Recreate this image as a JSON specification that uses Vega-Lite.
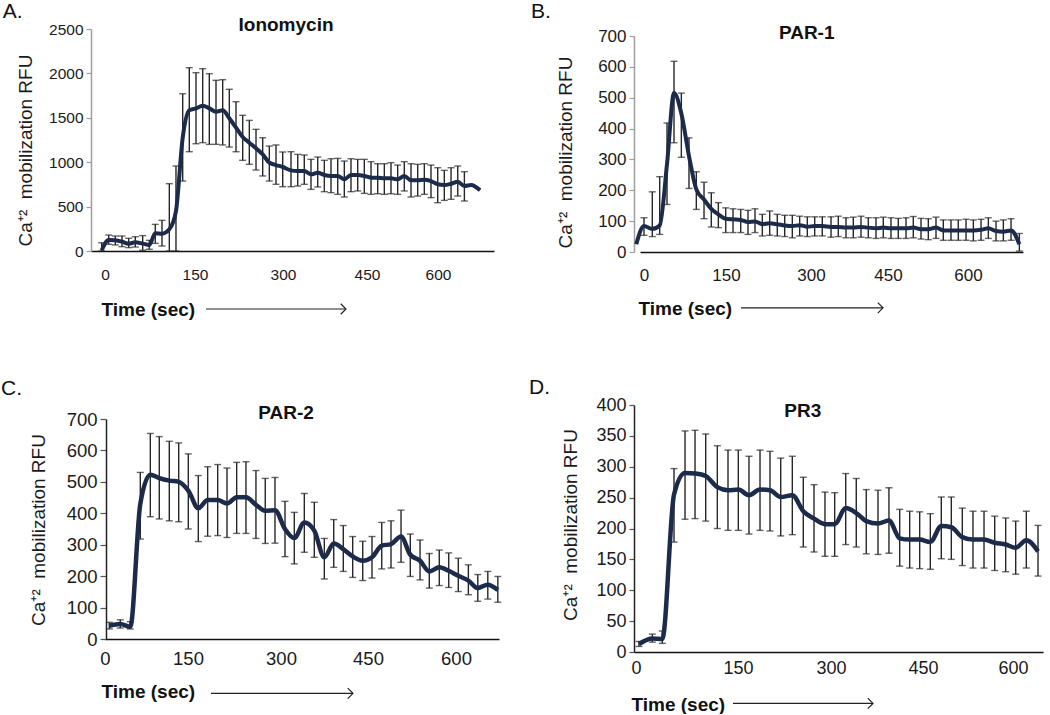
{
  "$schema": "https://vega.github.io/schema/vega-lite/v6.json",
  "padding": 0,
  "background": "white",
  "config": {"view": {"stroke": null}, "font": "Liberation Sans"},
  "datasets": {
    "A": [
      {"t":-5.5,"mean":8,"lo":0,"hi":93},
      {"t":6.2,"mean":124,"lo":75,"hi":180},
      {"t":17.2,"mean":120,"lo":68,"hi":169},
      {"t":28.3,"mean":105,"lo":49,"hi":169},
      {"t":39.5,"mean":83,"lo":38,"hi":143},
      {"t":50.5,"mean":98,"lo":45,"hi":161},
      {"t":62.8,"mean":83,"lo":8,"hi":173},
      {"t":73.8,"mean":68,"lo":19,"hi":120},
      {"t":83.8,"mean":199,"lo":86,"hi":300},
      {"t":95,"mean":195,"lo":56,"hi":345},
      {"t":107.2,"mean":244,"lo":0,"hi":758},
      {"t":118.3,"mean":450,"lo":0,"hi":957},
      {"t":129.5,"mean":1276,"lo":788,"hi":1771},
      {"t":140.5,"mean":1584,"lo":1118,"hi":2064},
      {"t":151.7,"mean":1606,"lo":1208,"hi":2008},
      {"t":163.1,"mean":1637,"lo":1220,"hi":2053},
      {"t":174.4,"mean":1606,"lo":1201,"hi":1997},
      {"t":185.8,"mean":1569,"lo":1201,"hi":1922},
      {"t":197.2,"mean":1584,"lo":1194,"hi":1929},
      {"t":208.5,"mean":1494,"lo":1171,"hi":1821},
      {"t":219.9,"mean":1389,"lo":1118,"hi":1681},
      {"t":231.3,"mean":1284,"lo":1021,"hi":1528},
      {"t":242.6,"mean":1220,"lo":976,"hi":1471},
      {"t":254,"mean":1156,"lo":912,"hi":1370},
      {"t":265.4,"mean":1088,"lo":845,"hi":1276},
      {"t":276.7,"mean":995,"lo":788,"hi":1182},
      {"t":288.1,"mean":968,"lo":751,"hi":1194},
      {"t":299.5,"mean":946,"lo":724,"hi":1115},
      {"t":314.3,"mean":908,"lo":724,"hi":1118},
      {"t":326.3,"mean":901,"lo":732,"hi":1088},
      {"t":338,"mean":900,"lo":751,"hi":1081},
      {"t":350,"mean":863,"lo":694,"hi":1032},
      {"t":362,"mean":882,"lo":721,"hi":1058},
      {"t":373.8,"mean":856,"lo":668,"hi":1021},
      {"t":385.7,"mean":845,"lo":657,"hi":1039},
      {"t":397.7,"mean":845,"lo":638,"hi":1043},
      {"t":409.5,"mean":807,"lo":608,"hi":1013},
      {"t":421.4,"mean":856,"lo":668,"hi":1039},
      {"t":433.4,"mean":856,"lo":676,"hi":1032},
      {"t":445.2,"mean":845,"lo":649,"hi":1032},
      {"t":458.5,"mean":826,"lo":638,"hi":1006},
      {"t":472.6,"mean":826,"lo":645,"hi":983},
      {"t":486.6,"mean":818,"lo":638,"hi":983},
      {"t":500.7,"mean":818,"lo":645,"hi":995},
      {"t":514.8,"mean":807,"lo":638,"hi":968},
      {"t":528.8,"mean":845,"lo":676,"hi":1006},
      {"t":543,"mean":796,"lo":608,"hi":983},
      {"t":557.1,"mean":796,"lo":619,"hi":976},
      {"t":571.1,"mean":803,"lo":638,"hi":983},
      {"t":585.2,"mean":788,"lo":601,"hi":968},
      {"t":599.4,"mean":751,"lo":544,"hi":938},
      {"t":613.3,"mean":743,"lo":570,"hi":908},
      {"t":627.5,"mean":758,"lo":582,"hi":938},
      {"t":641.6,"mean":781,"lo":619,"hi":957},
      {"t":655.6,"mean":732,"lo":563,"hi":893},
      {"t":669.7,"mean":743,"lo":null,"hi":null},
      {"t":688.7,"mean":683,"lo":null,"hi":null}
    ],
    "B": [
      {"t":-14.1,"mean":25,"lo":null,"hi":null},
      {"t":0,"mean":84,"lo":54,"hi":111},
      {"t":15.2,"mean":75,"lo":50,"hi":195},
      {"t":28.7,"mean":86,"lo":57,"hi":244},
      {"t":42.1,"mean":285,"lo":154,"hi":418},
      {"t":54.9,"mean":515,"lo":354,"hi":618},
      {"t":68.3,"mean":449,"lo":307,"hi":515},
      {"t":82.3,"mean":311,"lo":206,"hi":370},
      {"t":95.7,"mean":203,"lo":138,"hi":260},
      {"t":109.8,"mean":170,"lo":108,"hi":226},
      {"t":123.1,"mean":140,"lo":81,"hi":192},
      {"t":136,"mean":122,"lo":79,"hi":160},
      {"t":149.5,"mean":108,"lo":63,"hi":143},
      {"t":162.4,"mean":106,"lo":63,"hi":140},
      {"t":176,"mean":104,"lo":63,"hi":138},
      {"t":188.8,"mean":97,"lo":57,"hi":135},
      {"t":201.2,"mean":99,"lo":63,"hi":140},
      {"t":214.1,"mean":90,"lo":52,"hi":122},
      {"t":227.1,"mean":93,"lo":54,"hi":133},
      {"t":240.5,"mean":90,"lo":52,"hi":122},
      {"t":253.6,"mean":86,"lo":50,"hi":119},
      {"t":267,"mean":84,"lo":46,"hi":119},
      {"t":280,"mean":87,"lo":52,"hi":116},
      {"t":293.5,"mean":82,"lo":50,"hi":114},
      {"t":307.2,"mean":84,"lo":52,"hi":114},
      {"t":322,"mean":84,"lo":52,"hi":114},
      {"t":339,"mean":81,"lo":48,"hi":114},
      {"t":353.2,"mean":81,"lo":50,"hi":116},
      {"t":368.2,"mean":79,"lo":46,"hi":111},
      {"t":382.4,"mean":79,"lo":46,"hi":113},
      {"t":397.4,"mean":81,"lo":48,"hi":116},
      {"t":411.6,"mean":79,"lo":46,"hi":111},
      {"t":426.6,"mean":77,"lo":44,"hi":111},
      {"t":440.8,"mean":79,"lo":46,"hi":113},
      {"t":455.6,"mean":77,"lo":44,"hi":111},
      {"t":469.3,"mean":77,"lo":44,"hi":109},
      {"t":483.8,"mean":77,"lo":44,"hi":111},
      {"t":497.4,"mean":79,"lo":46,"hi":115},
      {"t":511.9,"mean":74,"lo":42,"hi":109},
      {"t":525.6,"mean":74,"lo":40,"hi":108},
      {"t":540,"mean":79,"lo":44,"hi":113},
      {"t":553.7,"mean":70,"lo":38,"hi":104},
      {"t":568.1,"mean":70,"lo":38,"hi":104},
      {"t":581.8,"mean":70,"lo":38,"hi":104},
      {"t":596.3,"mean":70,"lo":38,"hi":106},
      {"t":610,"mean":70,"lo":36,"hi":104},
      {"t":624.4,"mean":72,"lo":38,"hi":106},
      {"t":638.1,"mean":77,"lo":44,"hi":111},
      {"t":652.5,"mean":68,"lo":36,"hi":100},
      {"t":666.2,"mean":66,"lo":36,"hi":104},
      {"t":680.6,"mean":70,"lo":38,"hi":108},
      {"t":696.2,"mean":25,"lo":3,"hi":60}
    ],
    "C": [
      {"t":7.8,"mean":42,"lo":32,"hi":53},
      {"t":27.6,"mean":48,"lo":35,"hi":61},
      {"t":45.7,"mean":39,"lo":32,"hi":55},
      {"t":63.8,"mean":430,"lo":318,"hi":530},
      {"t":81.9,"mean":523,"lo":389,"hi":654},
      {"t":98.1,"mean":512,"lo":382,"hi":644},
      {"t":116.2,"mean":504,"lo":376,"hi":629},
      {"t":133.2,"mean":500,"lo":373,"hi":624},
      {"t":150.5,"mean":472,"lo":350,"hi":589},
      {"t":166.6,"mean":416,"lo":310,"hi":520},
      {"t":181.7,"mean":442,"lo":327,"hi":548},
      {"t":197.9,"mean":442,"lo":329,"hi":555},
      {"t":212.9,"mean":431,"lo":323,"hi":544},
      {"t":228.5,"mean":451,"lo":336,"hi":562},
      {"t":243.5,"mean":451,"lo":336,"hi":564},
      {"t":259.6,"mean":427,"lo":320,"hi":536},
      {"t":274.6,"mean":408,"lo":304,"hi":511},
      {"t":290.3,"mean":410,"lo":305,"hi":514},
      {"t":306.9,"mean":350,"lo":262,"hi":438},
      {"t":322.9,"mean":321,"lo":239,"hi":403},
      {"t":340.2,"mean":371,"lo":276,"hi":463},
      {"t":357.4,"mean":345,"lo":260,"hi":435},
      {"t":374.7,"mean":260,"lo":191,"hi":320},
      {"t":390.9,"mean":304,"lo":228,"hi":380},
      {"t":407.4,"mean":286,"lo":215,"hi":361},
      {"t":423.6,"mean":263,"lo":196,"hi":326},
      {"t":440.9,"mean":249,"lo":186,"hi":311},
      {"t":456.8,"mean":260,"lo":194,"hi":326},
      {"t":473.4,"mean":297,"lo":223,"hi":371},
      {"t":489.2,"mean":302,"lo":226,"hi":376},
      {"t":506.3,"mean":326,"lo":244,"hi":410},
      {"t":522.1,"mean":268,"lo":199,"hi":334},
      {"t":538.7,"mean":249,"lo":188,"hi":315},
      {"t":554.5,"mean":215,"lo":162,"hi":272},
      {"t":571.5,"mean":228,"lo":170,"hi":283},
      {"t":587.6,"mean":217,"lo":164,"hi":274},
      {"t":603.9,"mean":201,"lo":151,"hi":257},
      {"t":621,"mean":186,"lo":141,"hi":236},
      {"t":637,"mean":162,"lo":120,"hi":205},
      {"t":654,"mean":173,"lo":127,"hi":215},
      {"t":671,"mean":156,"lo":117,"hi":199}
    ],
    "D": [
      {"t":4.4,"mean":13,"lo":9,"hi":17},
      {"t":24,"mean":22,"lo":16,"hi":29},
      {"t":38.7,"mean":21,"lo":14,"hi":34},
      {"t":55.9,"mean":255,"lo":178,"hi":297},
      {"t":72.1,"mean":290,"lo":215,"hi":358},
      {"t":86.8,"mean":289,"lo":216,"hi":359},
      {"t":102.5,"mean":285,"lo":212,"hi":353},
      {"t":119.6,"mean":267,"lo":200,"hi":334},
      {"t":135.3,"mean":262,"lo":197,"hi":327},
      {"t":150.5,"mean":263,"lo":197,"hi":327},
      {"t":167.7,"mean":254,"lo":191,"hi":317},
      {"t":185.5,"mean":263,"lo":197,"hi":327},
      {"t":201.6,"mean":262,"lo":196,"hi":325},
      {"t":218.9,"mean":251,"lo":188,"hi":314},
      {"t":237.6,"mean":254,"lo":190,"hi":317},
      {"t":255.3,"mean":228,"lo":170,"hi":283},
      {"t":272.6,"mean":216,"lo":162,"hi":271},
      {"t":290.3,"mean":207,"lo":155,"hi":259},
      {"t":306,"mean":207,"lo":155,"hi":258},
      {"t":324,"mean":233,"lo":174,"hi":289},
      {"t":341.2,"mean":225,"lo":170,"hi":281},
      {"t":357.5,"mean":212,"lo":159,"hi":263},
      {"t":376.6,"mean":208,"lo":158,"hi":262},
      {"t":394.5,"mean":213,"lo":160,"hi":266},
      {"t":412,"mean":184,"lo":139,"hi":231},
      {"t":428.3,"mean":182,"lo":136,"hi":228},
      {"t":444.6,"mean":182,"lo":135,"hi":227},
      {"t":462.2,"mean":178,"lo":134,"hi":224},
      {"t":480.5,"mean":204,"lo":151,"hi":251},
      {"t":497.2,"mean":202,"lo":150,"hi":251},
      {"t":515.5,"mean":186,"lo":140,"hi":233},
      {"t":533.3,"mean":182,"lo":136,"hi":228},
      {"t":551.7,"mean":182,"lo":136,"hi":228},
      {"t":569.5,"mean":177,"lo":132,"hi":220},
      {"t":587.8,"mean":174,"lo":130,"hi":217},
      {"t":604.5,"mean":169,"lo":126,"hi":212},
      {"t":622.2,"mean":181,"lo":136,"hi":228},
      {"t":641.7,"mean":163,"lo":123,"hi":205}
    ]
  },
  "concat": [
    {
      "width": 403, "height": 222,
      "layer": [
        {"data": {"name": "A"}, "transform": [{"filter": "isValid(datum.hi)"}],
         "mark": {"type": "errorbar", "color": "#262626", "ticks": {"size": 7, "thickness": 1.4, "color": "#262626"}, "rule": {"strokeWidth": 1.4, "color": "#262626"}},
         "encoding": {
           "x": {"field": "t", "type": "quantitative", "scale": {"domain": [-23.3, 0, 150, 300, 450, 600, 718], "range": [0, 14, 104, 192, 276, 347, 403], "nice": false, "zero": false}, "axis": {"title": "Time (sec)", "values": [0,150,300,450,600], "grid": false, "ticks": false, "tickSize": 0, "domainColor": "#111111", "domainWidth": 1.5, "labelFont": "Liberation Sans", "labelFontSize": 15.5, "labelColor": "#1a1a1a", "labelPadding": 16, "labelFlush": false, "titleFont": "Liberation Sans", "titleFontSize": 19, "titleFontWeight": "bold", "titleColor": "#111111", "titleX": 10, "titleY": 58, "titleAlign": "left", "titleBaseline": "middle", "titleAnchor": "start"}},
           "y": {"field": "lo", "type": "quantitative", "scale": {"domain": [0, 2500], "nice": false, "zero": false}, "axis": {"title": "Ca⁺²\u00a0 mobilization RFU", "format": "d", "values": [0,500,1000,1500,2000,2500], "grid": false, "domainColor": "#9e9e9e", "domainWidth": 1.5, "tickColor": "#9e9e9e", "tickSize": 5, "tickWidth": 1.2, "labelFont": "Liberation Sans", "labelFontSize": 15.5, "labelColor": "#1a1a1a", "labelPadding": 3, "titleFont": "Liberation Sans", "titleFontSize": 19, "titleFontWeight": "normal", "titleColor": "#1a1a1a", "titleX": -66, "titleY": 121, "titleAngle": -90, "titleAlign": "center", "titleBaseline": "middle"}},
           "y2": {"field": "hi"}
         }},
        {"data": {"name": "A"},
         "mark": {"type": "line", "color": "#1c2b4a", "strokeWidth": 4, "interpolate": "monotone"},
         "encoding": {
           "x": {"field": "t", "type": "quantitative", "scale": {"domain": [-23.3, 0, 150, 300, 450, 600, 718], "range": [0, 14, 104, 192, 276, 347, 403], "nice": false, "zero": false}, "axis": {"title": "Time (sec)", "values": [0,150,300,450,600], "grid": false, "ticks": false, "tickSize": 0, "domainColor": "#111111", "domainWidth": 1.5, "labelFont": "Liberation Sans", "labelFontSize": 15.5, "labelColor": "#1a1a1a", "labelPadding": 16, "labelFlush": false, "titleFont": "Liberation Sans", "titleFontSize": 19, "titleFontWeight": "bold", "titleColor": "#111111", "titleX": 10, "titleY": 58, "titleAlign": "left", "titleBaseline": "middle", "titleAnchor": "start"}},
           "y": {"field": "mean", "type": "quantitative", "scale": {"domain": [0, 2500], "nice": false, "zero": false}, "axis": {"title": "Ca⁺²\u00a0 mobilization RFU", "format": "d", "values": [0,500,1000,1500,2000,2500], "grid": false, "domainColor": "#9e9e9e", "domainWidth": 1.5, "tickColor": "#9e9e9e", "tickSize": 5, "tickWidth": 1.2, "labelFont": "Liberation Sans", "labelFontSize": 15.5, "labelColor": "#1a1a1a", "labelPadding": 3, "titleFont": "Liberation Sans", "titleFontSize": 19, "titleFontWeight": "normal", "titleColor": "#1a1a1a", "titleX": -66, "titleY": 121, "titleAngle": -90, "titleAlign": "center", "titleBaseline": "middle"}}
         }},
        {"data": {"values": [{}]},
         "mark": {"type": "text", "text": "A.", "align": "left", "baseline": "middle", "fontSize": 21, "font": "Liberation Sans", "color": "#111111"},
         "encoding": {
           "x": {"datum": -170, "type": "quantitative", "scale": {"domain": [-23.3, 0, 150, 300, 450, 600, 718], "range": [0, 14, 104, 192, 276, 347, 403], "nice": false, "zero": false}, "axis": {"title": "Time (sec)", "values": [0,150,300,450,600], "grid": false, "ticks": false, "tickSize": 0, "domainColor": "#111111", "domainWidth": 1.5, "labelFont": "Liberation Sans", "labelFontSize": 15.5, "labelColor": "#1a1a1a", "labelPadding": 16, "labelFlush": false, "titleFont": "Liberation Sans", "titleFontSize": 19, "titleFontWeight": "bold", "titleColor": "#111111", "titleX": 10, "titleY": 58, "titleAlign": "left", "titleBaseline": "middle", "titleAnchor": "start"}},
           "y": {"datum": 2697, "type": "quantitative", "scale": {"domain": [0, 2500], "nice": false, "zero": false}, "axis": {"title": "Ca⁺²\u00a0 mobilization RFU", "format": "d", "values": [0,500,1000,1500,2000,2500], "grid": false, "domainColor": "#9e9e9e", "domainWidth": 1.5, "tickColor": "#9e9e9e", "tickSize": 5, "tickWidth": 1.2, "labelFont": "Liberation Sans", "labelFontSize": 15.5, "labelColor": "#1a1a1a", "labelPadding": 3, "titleFont": "Liberation Sans", "titleFontSize": 19, "titleFontWeight": "normal", "titleColor": "#1a1a1a", "titleX": -66, "titleY": 121, "titleAngle": -90, "titleAlign": "center", "titleBaseline": "middle"}}
         }},
        {"data": {"values": [{}]},
         "mark": {"type": "text", "text": "Ionomycin", "align": "center", "baseline": "middle", "fontSize": 19, "fontWeight": "bold", "font": "Liberation Sans", "color": "#111111"},
         "encoding": {
           "x": {"datum": 305.4, "type": "quantitative", "scale": {"domain": [-23.3, 0, 150, 300, 450, 600, 718], "range": [0, 14, 104, 192, 276, 347, 403], "nice": false, "zero": false}, "axis": {"title": "Time (sec)", "values": [0,150,300,450,600], "grid": false, "ticks": false, "tickSize": 0, "domainColor": "#111111", "domainWidth": 1.5, "labelFont": "Liberation Sans", "labelFontSize": 15.5, "labelColor": "#1a1a1a", "labelPadding": 16, "labelFlush": false, "titleFont": "Liberation Sans", "titleFontSize": 19, "titleFontWeight": "bold", "titleColor": "#111111", "titleX": 10, "titleY": 58, "titleAlign": "left", "titleBaseline": "middle", "titleAnchor": "start"}},
           "y": {"datum": 2545, "type": "quantitative", "scale": {"domain": [0, 2500], "nice": false, "zero": false}, "axis": {"title": "Ca⁺²\u00a0 mobilization RFU", "format": "d", "values": [0,500,1000,1500,2000,2500], "grid": false, "domainColor": "#9e9e9e", "domainWidth": 1.5, "tickColor": "#9e9e9e", "tickSize": 5, "tickWidth": 1.2, "labelFont": "Liberation Sans", "labelFontSize": 15.5, "labelColor": "#1a1a1a", "labelPadding": 3, "titleFont": "Liberation Sans", "titleFontSize": 19, "titleFontWeight": "normal", "titleColor": "#1a1a1a", "titleX": -66, "titleY": 121, "titleAngle": -90, "titleAlign": "center", "titleBaseline": "middle"}}
         }},
        {"data": {"values": [{}]},
         "mark": {"type": "rule", "color": "#222222", "strokeWidth": 1.2},
         "encoding": {
           "x": {"datum": 168.7, "type": "quantitative", "scale": {"domain": [-23.3, 0, 150, 300, 450, 600, 718], "range": [0, 14, 104, 192, 276, 347, 403], "nice": false, "zero": false}, "axis": {"title": "Time (sec)", "values": [0,150,300,450,600], "grid": false, "ticks": false, "tickSize": 0, "domainColor": "#111111", "domainWidth": 1.5, "labelFont": "Liberation Sans", "labelFontSize": 15.5, "labelColor": "#1a1a1a", "labelPadding": 16, "labelFlush": false, "titleFont": "Liberation Sans", "titleFontSize": 19, "titleFontWeight": "bold", "titleColor": "#111111", "titleX": 10, "titleY": 58, "titleAlign": "left", "titleBaseline": "middle", "titleAnchor": "start"}},
           "x2": {"datum": 412.5},
           "y": {"datum": -653, "type": "quantitative", "scale": {"domain": [0, 2500], "nice": false, "zero": false}, "axis": {"title": "Ca⁺²\u00a0 mobilization RFU", "format": "d", "values": [0,500,1000,1500,2000,2500], "grid": false, "domainColor": "#9e9e9e", "domainWidth": 1.5, "tickColor": "#9e9e9e", "tickSize": 5, "tickWidth": 1.2, "labelFont": "Liberation Sans", "labelFontSize": 15.5, "labelColor": "#1a1a1a", "labelPadding": 3, "titleFont": "Liberation Sans", "titleFontSize": 19, "titleFontWeight": "normal", "titleColor": "#1a1a1a", "titleX": -66, "titleY": 121, "titleAngle": -90, "titleAlign": "center", "titleBaseline": "middle"}}
         }},
        {"data": {"values": [{}]},
         "mark": {"type": "point", "shape": "M-1,-1L0,0L-1,1", "filled": false, "size": 110, "stroke": "#222222", "strokeWidth": 1.2, "opacity": 1},
         "encoding": {
           "x": {"datum": 412.5, "type": "quantitative", "scale": {"domain": [-23.3, 0, 150, 300, 450, 600, 718], "range": [0, 14, 104, 192, 276, 347, 403], "nice": false, "zero": false}, "axis": {"title": "Time (sec)", "values": [0,150,300,450,600], "grid": false, "ticks": false, "tickSize": 0, "domainColor": "#111111", "domainWidth": 1.5, "labelFont": "Liberation Sans", "labelFontSize": 15.5, "labelColor": "#1a1a1a", "labelPadding": 16, "labelFlush": false, "titleFont": "Liberation Sans", "titleFontSize": 19, "titleFontWeight": "bold", "titleColor": "#111111", "titleX": 10, "titleY": 58, "titleAlign": "left", "titleBaseline": "middle", "titleAnchor": "start"}},
           "y": {"datum": -653, "type": "quantitative", "scale": {"domain": [0, 2500], "nice": false, "zero": false}, "axis": {"title": "Ca⁺²\u00a0 mobilization RFU", "format": "d", "values": [0,500,1000,1500,2000,2500], "grid": false, "domainColor": "#9e9e9e", "domainWidth": 1.5, "tickColor": "#9e9e9e", "tickSize": 5, "tickWidth": 1.2, "labelFont": "Liberation Sans", "labelFontSize": 15.5, "labelColor": "#1a1a1a", "labelPadding": 3, "titleFont": "Liberation Sans", "titleFontSize": 19, "titleFontWeight": "normal", "titleColor": "#1a1a1a", "titleX": -66, "titleY": 121, "titleAngle": -90, "titleAlign": "center", "titleBaseline": "middle"}}
         }}
      ]
    },
    {
      "width": 389, "height": 223,
      "layer": [
        {"data": {"name": "B"}, "transform": [{"filter": "isValid(datum.hi)"}],
         "mark": {"type": "errorbar", "color": "#262626", "ticks": {"size": 7, "thickness": 1.4, "color": "#262626"}, "rule": {"strokeWidth": 1.4, "color": "#262626"}},
         "encoding": {
           "x": {"field": "t", "type": "quantitative", "scale": {"domain": [-7.3, 0, 150, 300, 450, 600, 703], "range": [6, 10, 92, 177, 254, 334, 389], "nice": false, "zero": false}, "axis": {"title": "Time (sec)", "values": [0,150,300,450,600], "grid": false, "ticks": false, "tickSize": 0, "domainColor": "#111111", "domainWidth": 1.5, "labelFont": "Liberation Sans", "labelFontSize": 17, "labelColor": "#1a1a1a", "labelPadding": 15, "labelFlush": false, "titleFont": "Liberation Sans", "titleFontSize": 19, "titleFontWeight": "bold", "titleColor": "#111111", "titleX": 4, "titleY": 56, "titleAlign": "left", "titleBaseline": "middle", "titleAnchor": "start"}},
           "y": {"field": "lo", "type": "quantitative", "scale": {"domain": [0, 700], "range": [223, 7], "nice": false, "zero": false}, "axis": {"title": "Ca⁺²\u00a0 mobilization RFU", "format": "d", "values": [0,100,200,300,400,500,600,700], "grid": false, "domainColor": "#9e9e9e", "domainWidth": 1.5, "tickColor": "#9e9e9e", "tickSize": 5, "tickWidth": 1.2, "labelFont": "Liberation Sans", "labelFontSize": 17, "labelColor": "#1a1a1a", "labelPadding": 3, "titleFont": "Liberation Sans", "titleFontSize": 19, "titleFontWeight": "normal", "titleColor": "#1a1a1a", "titleX": -69, "titleY": 123, "titleAngle": -90, "titleAlign": "center", "titleBaseline": "middle"}},
           "y2": {"field": "hi"}
         }},
        {"data": {"name": "B"},
         "mark": {"type": "line", "color": "#1c2b4a", "strokeWidth": 4, "interpolate": "monotone"},
         "encoding": {
           "x": {"field": "t", "type": "quantitative", "scale": {"domain": [-7.3, 0, 150, 300, 450, 600, 703], "range": [6, 10, 92, 177, 254, 334, 389], "nice": false, "zero": false}, "axis": {"title": "Time (sec)", "values": [0,150,300,450,600], "grid": false, "ticks": false, "tickSize": 0, "domainColor": "#111111", "domainWidth": 1.5, "labelFont": "Liberation Sans", "labelFontSize": 17, "labelColor": "#1a1a1a", "labelPadding": 15, "labelFlush": false, "titleFont": "Liberation Sans", "titleFontSize": 19, "titleFontWeight": "bold", "titleColor": "#111111", "titleX": 4, "titleY": 56, "titleAlign": "left", "titleBaseline": "middle", "titleAnchor": "start"}},
           "y": {"field": "mean", "type": "quantitative", "scale": {"domain": [0, 700], "range": [223, 7], "nice": false, "zero": false}, "axis": {"title": "Ca⁺²\u00a0 mobilization RFU", "format": "d", "values": [0,100,200,300,400,500,600,700], "grid": false, "domainColor": "#9e9e9e", "domainWidth": 1.5, "tickColor": "#9e9e9e", "tickSize": 5, "tickWidth": 1.2, "labelFont": "Liberation Sans", "labelFontSize": 17, "labelColor": "#1a1a1a", "labelPadding": 3, "titleFont": "Liberation Sans", "titleFontSize": 19, "titleFontWeight": "normal", "titleColor": "#1a1a1a", "titleX": -69, "titleY": 123, "titleAngle": -90, "titleAlign": "center", "titleBaseline": "middle"}}
         }},
        {"data": {"values": [{}]},
         "mark": {"type": "text", "text": "B.", "align": "left", "baseline": "middle", "fontSize": 21, "font": "Liberation Sans", "color": "#111111"},
         "encoding": {
           "x": {"datum": -206.2, "type": "quantitative", "scale": {"domain": [-7.3, 0, 150, 300, 450, 600, 703], "range": [6, 10, 92, 177, 254, 334, 389], "nice": false, "zero": false}, "axis": {"title": "Time (sec)", "values": [0,150,300,450,600], "grid": false, "ticks": false, "tickSize": 0, "domainColor": "#111111", "domainWidth": 1.5, "labelFont": "Liberation Sans", "labelFontSize": 17, "labelColor": "#1a1a1a", "labelPadding": 15, "labelFlush": false, "titleFont": "Liberation Sans", "titleFontSize": 19, "titleFontWeight": "bold", "titleColor": "#111111", "titleX": 4, "titleY": 56, "titleAlign": "left", "titleBaseline": "middle", "titleAnchor": "start"}},
           "y": {"datum": 778, "type": "quantitative", "scale": {"domain": [0, 700], "range": [223, 7], "nice": false, "zero": false}, "axis": {"title": "Ca⁺²\u00a0 mobilization RFU", "format": "d", "values": [0,100,200,300,400,500,600,700], "grid": false, "domainColor": "#9e9e9e", "domainWidth": 1.5, "tickColor": "#9e9e9e", "tickSize": 5, "tickWidth": 1.2, "labelFont": "Liberation Sans", "labelFontSize": 17, "labelColor": "#1a1a1a", "labelPadding": 3, "titleFont": "Liberation Sans", "titleFontSize": 19, "titleFontWeight": "normal", "titleColor": "#1a1a1a", "titleX": -69, "titleY": 123, "titleAngle": -90, "titleAlign": "center", "titleBaseline": "middle"}}
         }},
        {"data": {"values": [{}]},
         "mark": {"type": "text", "text": "PAR-1", "align": "center", "baseline": "middle", "fontSize": 19, "fontWeight": "bold", "font": "Liberation Sans", "color": "#111111"},
         "encoding": {
           "x": {"datum": 292.4, "type": "quantitative", "scale": {"domain": [-7.3, 0, 150, 300, 450, 600, 703], "range": [6, 10, 92, 177, 254, 334, 389], "nice": false, "zero": false}, "axis": {"title": "Time (sec)", "values": [0,150,300,450,600], "grid": false, "ticks": false, "tickSize": 0, "domainColor": "#111111", "domainWidth": 1.5, "labelFont": "Liberation Sans", "labelFontSize": 17, "labelColor": "#1a1a1a", "labelPadding": 15, "labelFlush": false, "titleFont": "Liberation Sans", "titleFontSize": 19, "titleFontWeight": "bold", "titleColor": "#111111", "titleX": 4, "titleY": 56, "titleAlign": "left", "titleBaseline": "middle", "titleAnchor": "start"}},
           "y": {"datum": 710, "type": "quantitative", "scale": {"domain": [0, 700], "range": [223, 7], "nice": false, "zero": false}, "axis": {"title": "Ca⁺²\u00a0 mobilization RFU", "format": "d", "values": [0,100,200,300,400,500,600,700], "grid": false, "domainColor": "#9e9e9e", "domainWidth": 1.5, "tickColor": "#9e9e9e", "tickSize": 5, "tickWidth": 1.2, "labelFont": "Liberation Sans", "labelFontSize": 17, "labelColor": "#1a1a1a", "labelPadding": 3, "titleFont": "Liberation Sans", "titleFontSize": 19, "titleFontWeight": "normal", "titleColor": "#1a1a1a", "titleX": -69, "titleY": 123, "titleAngle": -90, "titleAlign": "center", "titleBaseline": "middle"}}
         }},
        {"data": {"values": [{}]},
         "mark": {"type": "rule", "color": "#222222", "strokeWidth": 1.2},
         "encoding": {
           "x": {"datum": 176.5, "type": "quantitative", "scale": {"domain": [-7.3, 0, 150, 300, 450, 600, 703], "range": [6, 10, 92, 177, 254, 334, 389], "nice": false, "zero": false}, "axis": {"title": "Time (sec)", "values": [0,150,300,450,600], "grid": false, "ticks": false, "tickSize": 0, "domainColor": "#111111", "domainWidth": 1.5, "labelFont": "Liberation Sans", "labelFontSize": 17, "labelColor": "#1a1a1a", "labelPadding": 15, "labelFlush": false, "titleFont": "Liberation Sans", "titleFontSize": 19, "titleFontWeight": "bold", "titleColor": "#111111", "titleX": 4, "titleY": 56, "titleAlign": "left", "titleBaseline": "middle", "titleAnchor": "start"}},
           "x2": {"datum": 440.3},
           "y": {"datum": -181, "type": "quantitative", "scale": {"domain": [0, 700], "range": [223, 7], "nice": false, "zero": false}, "axis": {"title": "Ca⁺²\u00a0 mobilization RFU", "format": "d", "values": [0,100,200,300,400,500,600,700], "grid": false, "domainColor": "#9e9e9e", "domainWidth": 1.5, "tickColor": "#9e9e9e", "tickSize": 5, "tickWidth": 1.2, "labelFont": "Liberation Sans", "labelFontSize": 17, "labelColor": "#1a1a1a", "labelPadding": 3, "titleFont": "Liberation Sans", "titleFontSize": 19, "titleFontWeight": "normal", "titleColor": "#1a1a1a", "titleX": -69, "titleY": 123, "titleAngle": -90, "titleAlign": "center", "titleBaseline": "middle"}}
         }},
        {"data": {"values": [{}]},
         "mark": {"type": "point", "shape": "M-1,-1L0,0L-1,1", "filled": false, "size": 110, "stroke": "#222222", "strokeWidth": 1.2, "opacity": 1},
         "encoding": {
           "x": {"datum": 440.3, "type": "quantitative", "scale": {"domain": [-7.3, 0, 150, 300, 450, 600, 703], "range": [6, 10, 92, 177, 254, 334, 389], "nice": false, "zero": false}, "axis": {"title": "Time (sec)", "values": [0,150,300,450,600], "grid": false, "ticks": false, "tickSize": 0, "domainColor": "#111111", "domainWidth": 1.5, "labelFont": "Liberation Sans", "labelFontSize": 17, "labelColor": "#1a1a1a", "labelPadding": 15, "labelFlush": false, "titleFont": "Liberation Sans", "titleFontSize": 19, "titleFontWeight": "bold", "titleColor": "#111111", "titleX": 4, "titleY": 56, "titleAlign": "left", "titleBaseline": "middle", "titleAnchor": "start"}},
           "y": {"datum": -181, "type": "quantitative", "scale": {"domain": [0, 700], "range": [223, 7], "nice": false, "zero": false}, "axis": {"title": "Ca⁺²\u00a0 mobilization RFU", "format": "d", "values": [0,100,200,300,400,500,600,700], "grid": false, "domainColor": "#9e9e9e", "domainWidth": 1.5, "tickColor": "#9e9e9e", "tickSize": 5, "tickWidth": 1.2, "labelFont": "Liberation Sans", "labelFontSize": 17, "labelColor": "#1a1a1a", "labelPadding": 3, "titleFont": "Liberation Sans", "titleFontSize": 19, "titleFontWeight": "normal", "titleColor": "#1a1a1a", "titleX": -69, "titleY": 123, "titleAngle": -90, "titleAlign": "center", "titleBaseline": "middle"}}
         }}
      ]
    },
    {
      "width": 408, "height": 234,
      "layer": [
        {"data": {"name": "C"}, "transform": [{"filter": "isValid(datum.hi)"}],
         "mark": {"type": "errorbar", "color": "#262626", "ticks": {"size": 7, "thickness": 1.4, "color": "#262626"}, "rule": {"strokeWidth": 1.4, "color": "#262626"}},
         "encoding": {
           "x": {"field": "t", "type": "quantitative", "scale": {"domain": [0, 150, 300, 450, 600, 673], "range": [14, 97, 190, 277, 365, 408], "nice": false, "zero": false}, "axis": {"title": "Time (sec)", "values": [0,150,300,450,600], "grid": false, "ticks": false, "tickSize": 0, "domainColor": "#111111", "domainWidth": 1.5, "labelFont": "Liberation Sans", "labelFontSize": 18.5, "labelColor": "#1a1a1a", "labelPadding": 10, "labelFlush": false, "titleFont": "Liberation Sans", "titleFontSize": 19, "titleFontWeight": "bold", "titleColor": "#111111", "titleX": 10, "titleY": 52, "titleAlign": "left", "titleBaseline": "middle", "titleAnchor": "start"}},
           "y": {"field": "lo", "type": "quantitative", "scale": {"domain": [0, 700], "range": [234, 14], "nice": false, "zero": false}, "axis": {"title": "Ca⁺²\u00a0 mobilization RFU", "format": "d", "values": [0,100,200,300,400,500,600,700], "offset": -15, "grid": false, "domainColor": "#222222", "domainWidth": 1.5, "tickColor": "#555555", "tickSize": 6, "tickWidth": 1.2, "labelFont": "Liberation Sans", "labelFontSize": 18.5, "labelColor": "#1a1a1a", "labelPadding": 3, "titleFont": "Liberation Sans", "titleFontSize": 19, "titleFontWeight": "normal", "titleColor": "#1a1a1a", "titleX": -68, "titleY": 124.5, "titleAngle": -90, "titleAlign": "center", "titleBaseline": "middle"}},
           "y2": {"field": "hi"}
         }},
        {"data": {"name": "C"},
         "mark": {"type": "line", "color": "#1c2b4a", "strokeWidth": 4.5, "interpolate": "monotone"},
         "encoding": {
           "x": {"field": "t", "type": "quantitative", "scale": {"domain": [0, 150, 300, 450, 600, 673], "range": [14, 97, 190, 277, 365, 408], "nice": false, "zero": false}, "axis": {"title": "Time (sec)", "values": [0,150,300,450,600], "grid": false, "ticks": false, "tickSize": 0, "domainColor": "#111111", "domainWidth": 1.5, "labelFont": "Liberation Sans", "labelFontSize": 18.5, "labelColor": "#1a1a1a", "labelPadding": 10, "labelFlush": false, "titleFont": "Liberation Sans", "titleFontSize": 19, "titleFontWeight": "bold", "titleColor": "#111111", "titleX": 10, "titleY": 52, "titleAlign": "left", "titleBaseline": "middle", "titleAnchor": "start"}},
           "y": {"field": "mean", "type": "quantitative", "scale": {"domain": [0, 700], "range": [234, 14], "nice": false, "zero": false}, "axis": {"title": "Ca⁺²\u00a0 mobilization RFU", "format": "d", "values": [0,100,200,300,400,500,600,700], "offset": -15, "grid": false, "domainColor": "#222222", "domainWidth": 1.5, "tickColor": "#555555", "tickSize": 6, "tickWidth": 1.2, "labelFont": "Liberation Sans", "labelFontSize": 18.5, "labelColor": "#1a1a1a", "labelPadding": 3, "titleFont": "Liberation Sans", "titleFontSize": 19, "titleFontWeight": "normal", "titleColor": "#1a1a1a", "titleX": -68, "titleY": 124.5, "titleAngle": -90, "titleAlign": "center", "titleBaseline": "middle"}}
         }},
        {"data": {"values": [{}]},
         "mark": {"type": "text", "text": "C.", "align": "left", "baseline": "middle", "fontSize": 21, "font": "Liberation Sans", "color": "#111111"},
         "encoding": {
           "x": {"datum": -188, "type": "quantitative", "scale": {"domain": [0, 150, 300, 450, 600, 673], "range": [14, 97, 190, 277, 365, 408], "nice": false, "zero": false}, "axis": {"title": "Time (sec)", "values": [0,150,300,450,600], "grid": false, "ticks": false, "tickSize": 0, "domainColor": "#111111", "domainWidth": 1.5, "labelFont": "Liberation Sans", "labelFontSize": 18.5, "labelColor": "#1a1a1a", "labelPadding": 10, "labelFlush": false, "titleFont": "Liberation Sans", "titleFontSize": 19, "titleFontWeight": "bold", "titleColor": "#111111", "titleX": 10, "titleY": 52, "titleAlign": "left", "titleBaseline": "middle", "titleAnchor": "start"}},
           "y": {"datum": 797, "type": "quantitative", "scale": {"domain": [0, 700], "range": [234, 14], "nice": false, "zero": false}, "axis": {"title": "Ca⁺²\u00a0 mobilization RFU", "format": "d", "values": [0,100,200,300,400,500,600,700], "offset": -15, "grid": false, "domainColor": "#222222", "domainWidth": 1.5, "tickColor": "#555555", "tickSize": 6, "tickWidth": 1.2, "labelFont": "Liberation Sans", "labelFontSize": 18.5, "labelColor": "#1a1a1a", "labelPadding": 3, "titleFont": "Liberation Sans", "titleFontSize": 19, "titleFontWeight": "normal", "titleColor": "#1a1a1a", "titleX": -68, "titleY": 124.5, "titleAngle": -90, "titleAlign": "center", "titleBaseline": "middle"}}
         }},
        {"data": {"values": [{}]},
         "mark": {"type": "text", "text": "PAR-2", "align": "center", "baseline": "middle", "fontSize": 19, "fontWeight": "bold", "font": "Liberation Sans", "color": "#111111"},
         "encoding": {
           "x": {"datum": 308.6, "type": "quantitative", "scale": {"domain": [0, 150, 300, 450, 600, 673], "range": [14, 97, 190, 277, 365, 408], "nice": false, "zero": false}, "axis": {"title": "Time (sec)", "values": [0,150,300,450,600], "grid": false, "ticks": false, "tickSize": 0, "domainColor": "#111111", "domainWidth": 1.5, "labelFont": "Liberation Sans", "labelFontSize": 18.5, "labelColor": "#1a1a1a", "labelPadding": 10, "labelFlush": false, "titleFont": "Liberation Sans", "titleFontSize": 19, "titleFontWeight": "bold", "titleColor": "#111111", "titleX": 10, "titleY": 52, "titleAlign": "left", "titleBaseline": "middle", "titleAnchor": "start"}},
           "y": {"datum": 720, "type": "quantitative", "scale": {"domain": [0, 700], "range": [234, 14], "nice": false, "zero": false}, "axis": {"title": "Ca⁺²\u00a0 mobilization RFU", "format": "d", "values": [0,100,200,300,400,500,600,700], "offset": -15, "grid": false, "domainColor": "#222222", "domainWidth": 1.5, "tickColor": "#555555", "tickSize": 6, "tickWidth": 1.2, "labelFont": "Liberation Sans", "labelFontSize": 18.5, "labelColor": "#1a1a1a", "labelPadding": 3, "titleFont": "Liberation Sans", "titleFontSize": 19, "titleFontWeight": "normal", "titleColor": "#1a1a1a", "titleX": -68, "titleY": 124.5, "titleAngle": -90, "titleAlign": "center", "titleBaseline": "middle"}}
         }},
        {"data": {"values": [{}]},
         "mark": {"type": "rule", "color": "#222222", "strokeWidth": 1.2},
         "encoding": {
           "x": {"datum": 187.1, "type": "quantitative", "scale": {"domain": [0, 150, 300, 450, 600, 673], "range": [14, 97, 190, 277, 365, 408], "nice": false, "zero": false}, "axis": {"title": "Time (sec)", "values": [0,150,300,450,600], "grid": false, "ticks": false, "tickSize": 0, "domainColor": "#111111", "domainWidth": 1.5, "labelFont": "Liberation Sans", "labelFontSize": 18.5, "labelColor": "#1a1a1a", "labelPadding": 10, "labelFlush": false, "titleFont": "Liberation Sans", "titleFontSize": 19, "titleFontWeight": "bold", "titleColor": "#111111", "titleX": 10, "titleY": 52, "titleAlign": "left", "titleBaseline": "middle", "titleAnchor": "start"}},
           "x2": {"datum": 424.1},
           "y": {"datum": -173, "type": "quantitative", "scale": {"domain": [0, 700], "range": [234, 14], "nice": false, "zero": false}, "axis": {"title": "Ca⁺²\u00a0 mobilization RFU", "format": "d", "values": [0,100,200,300,400,500,600,700], "offset": -15, "grid": false, "domainColor": "#222222", "domainWidth": 1.5, "tickColor": "#555555", "tickSize": 6, "tickWidth": 1.2, "labelFont": "Liberation Sans", "labelFontSize": 18.5, "labelColor": "#1a1a1a", "labelPadding": 3, "titleFont": "Liberation Sans", "titleFontSize": 19, "titleFontWeight": "normal", "titleColor": "#1a1a1a", "titleX": -68, "titleY": 124.5, "titleAngle": -90, "titleAlign": "center", "titleBaseline": "middle"}}
         }},
        {"data": {"values": [{}]},
         "mark": {"type": "point", "shape": "M-1,-1L0,0L-1,1", "filled": false, "size": 110, "stroke": "#222222", "strokeWidth": 1.2, "opacity": 1},
         "encoding": {
           "x": {"datum": 424.1, "type": "quantitative", "scale": {"domain": [0, 150, 300, 450, 600, 673], "range": [14, 97, 190, 277, 365, 408], "nice": false, "zero": false}, "axis": {"title": "Time (sec)", "values": [0,150,300,450,600], "grid": false, "ticks": false, "tickSize": 0, "domainColor": "#111111", "domainWidth": 1.5, "labelFont": "Liberation Sans", "labelFontSize": 18.5, "labelColor": "#1a1a1a", "labelPadding": 10, "labelFlush": false, "titleFont": "Liberation Sans", "titleFontSize": 19, "titleFontWeight": "bold", "titleColor": "#111111", "titleX": 10, "titleY": 52, "titleAlign": "left", "titleBaseline": "middle", "titleAnchor": "start"}},
           "y": {"datum": -173, "type": "quantitative", "scale": {"domain": [0, 700], "range": [234, 14], "nice": false, "zero": false}, "axis": {"title": "Ca⁺²\u00a0 mobilization RFU", "format": "d", "values": [0,100,200,300,400,500,600,700], "offset": -15, "grid": false, "domainColor": "#222222", "domainWidth": 1.5, "tickColor": "#555555", "tickSize": 6, "tickWidth": 1.2, "labelFont": "Liberation Sans", "labelFontSize": 18.5, "labelColor": "#1a1a1a", "labelPadding": 3, "titleFont": "Liberation Sans", "titleFontSize": 19, "titleFontWeight": "normal", "titleColor": "#1a1a1a", "titleX": -68, "titleY": 124.5, "titleAngle": -90, "titleAlign": "center", "titleBaseline": "middle"}}
         }}
      ]
    },
    {
      "width": 409, "height": 247,
      "layer": [
        {"data": {"name": "D"}, "transform": [{"filter": "isValid(datum.hi)"}],
         "mark": {"type": "errorbar", "color": "#262626", "ticks": {"size": 7, "thickness": 1.4, "color": "#262626"}, "rule": {"strokeWidth": 1.4, "color": "#262626"}},
         "encoding": {
           "x": {"field": "t", "type": "quantitative", "scale": {"domain": [-2.9, 0, 150, 300, 450, 600, 650], "range": [0, 2, 104, 197, 289, 379, 409], "nice": false, "zero": false}, "axis": {"title": "Time (sec)", "values": [0,150,300,450,600], "grid": false, "ticks": false, "tickSize": 0, "domainColor": "#111111", "domainWidth": 1.5, "labelFont": "Liberation Sans", "labelFontSize": 18, "labelColor": "#1a1a1a", "labelPadding": 7.5, "labelFlush": false, "titleFont": "Liberation Sans", "titleFontSize": 19, "titleFontWeight": "bold", "titleColor": "#111111", "titleX": -3, "titleY": 52, "titleAlign": "left", "titleBaseline": "middle", "titleAnchor": "start"}},
           "y": {"field": "lo", "type": "quantitative", "scale": {"domain": [0, 400], "nice": false, "zero": false}, "axis": {"title": "Ca⁺²\u00a0 mobilization RFU", "format": "d", "values": [0,50,100,150,200,250,300,350,400], "grid": false, "domainColor": "#222222", "domainWidth": 1.5, "tickColor": "#555555", "tickSize": 5, "tickWidth": 1.2, "labelFont": "Liberation Sans", "labelFontSize": 18, "labelColor": "#1a1a1a", "labelPadding": 3, "titleFont": "Liberation Sans", "titleFontSize": 19, "titleFontWeight": "normal", "titleColor": "#1a1a1a", "titleX": -64, "titleY": 119.5, "titleAngle": -90, "titleAlign": "center", "titleBaseline": "middle"}},
           "y2": {"field": "hi"}
         }},
        {"data": {"name": "D"},
         "mark": {"type": "line", "color": "#1c2b4a", "strokeWidth": 4.5, "interpolate": "monotone"},
         "encoding": {
           "x": {"field": "t", "type": "quantitative", "scale": {"domain": [-2.9, 0, 150, 300, 450, 600, 650], "range": [0, 2, 104, 197, 289, 379, 409], "nice": false, "zero": false}, "axis": {"title": "Time (sec)", "values": [0,150,300,450,600], "grid": false, "ticks": false, "tickSize": 0, "domainColor": "#111111", "domainWidth": 1.5, "labelFont": "Liberation Sans", "labelFontSize": 18, "labelColor": "#1a1a1a", "labelPadding": 7.5, "labelFlush": false, "titleFont": "Liberation Sans", "titleFontSize": 19, "titleFontWeight": "bold", "titleColor": "#111111", "titleX": -3, "titleY": 52, "titleAlign": "left", "titleBaseline": "middle", "titleAnchor": "start"}},
           "y": {"field": "mean", "type": "quantitative", "scale": {"domain": [0, 400], "nice": false, "zero": false}, "axis": {"title": "Ca⁺²\u00a0 mobilization RFU", "format": "d", "values": [0,50,100,150,200,250,300,350,400], "grid": false, "domainColor": "#222222", "domainWidth": 1.5, "tickColor": "#555555", "tickSize": 5, "tickWidth": 1.2, "labelFont": "Liberation Sans", "labelFontSize": 18, "labelColor": "#1a1a1a", "labelPadding": 3, "titleFont": "Liberation Sans", "titleFontSize": 19, "titleFontWeight": "normal", "titleColor": "#1a1a1a", "titleX": -64, "titleY": 119.5, "titleAngle": -90, "titleAlign": "center", "titleBaseline": "middle"}}
         }},
        {"data": {"values": [{}]},
         "mark": {"type": "text", "text": "D.", "align": "left", "baseline": "middle", "fontSize": 21, "font": "Liberation Sans", "color": "#111111"},
         "encoding": {
           "x": {"datum": -155.2, "type": "quantitative", "scale": {"domain": [-2.9, 0, 150, 300, 450, 600, 650], "range": [0, 2, 104, 197, 289, 379, 409], "nice": false, "zero": false}, "axis": {"title": "Time (sec)", "values": [0,150,300,450,600], "grid": false, "ticks": false, "tickSize": 0, "domainColor": "#111111", "domainWidth": 1.5, "labelFont": "Liberation Sans", "labelFontSize": 18, "labelColor": "#1a1a1a", "labelPadding": 7.5, "labelFlush": false, "titleFont": "Liberation Sans", "titleFontSize": 19, "titleFontWeight": "bold", "titleColor": "#111111", "titleX": -3, "titleY": 52, "titleAlign": "left", "titleBaseline": "middle", "titleAnchor": "start"}},
           "y": {"datum": 427, "type": "quantitative", "scale": {"domain": [0, 400], "nice": false, "zero": false}, "axis": {"title": "Ca⁺²\u00a0 mobilization RFU", "format": "d", "values": [0,50,100,150,200,250,300,350,400], "grid": false, "domainColor": "#222222", "domainWidth": 1.5, "tickColor": "#555555", "tickSize": 5, "tickWidth": 1.2, "labelFont": "Liberation Sans", "labelFontSize": 18, "labelColor": "#1a1a1a", "labelPadding": 3, "titleFont": "Liberation Sans", "titleFontSize": 19, "titleFontWeight": "normal", "titleColor": "#1a1a1a", "titleX": -64, "titleY": 119.5, "titleAngle": -90, "titleAlign": "center", "titleBaseline": "middle"}}
         }},
        {"data": {"values": [{}]},
         "mark": {"type": "text", "text": "PR3", "align": "center", "baseline": "middle", "fontSize": 19, "fontWeight": "bold", "font": "Liberation Sans", "color": "#111111"},
         "encoding": {
           "x": {"datum": 254.4, "type": "quantitative", "scale": {"domain": [-2.9, 0, 150, 300, 450, 600, 650], "range": [0, 2, 104, 197, 289, 379, 409], "nice": false, "zero": false}, "axis": {"title": "Time (sec)", "values": [0,150,300,450,600], "grid": false, "ticks": false, "tickSize": 0, "domainColor": "#111111", "domainWidth": 1.5, "labelFont": "Liberation Sans", "labelFontSize": 18, "labelColor": "#1a1a1a", "labelPadding": 7.5, "labelFlush": false, "titleFont": "Liberation Sans", "titleFontSize": 19, "titleFontWeight": "bold", "titleColor": "#111111", "titleX": -3, "titleY": 52, "titleAlign": "left", "titleBaseline": "middle", "titleAnchor": "start"}},
           "y": {"datum": 390, "type": "quantitative", "scale": {"domain": [0, 400], "nice": false, "zero": false}, "axis": {"title": "Ca⁺²\u00a0 mobilization RFU", "format": "d", "values": [0,50,100,150,200,250,300,350,400], "grid": false, "domainColor": "#222222", "domainWidth": 1.5, "tickColor": "#555555", "tickSize": 5, "tickWidth": 1.2, "labelFont": "Liberation Sans", "labelFontSize": 18, "labelColor": "#1a1a1a", "labelPadding": 3, "titleFont": "Liberation Sans", "titleFontSize": 19, "titleFontWeight": "normal", "titleColor": "#1a1a1a", "titleX": -64, "titleY": 119.5, "titleAngle": -90, "titleAlign": "center", "titleBaseline": "middle"}}
         }},
        {"data": {"values": [{}]},
         "mark": {"type": "rule", "color": "#222222", "strokeWidth": 1.2},
         "encoding": {
           "x": {"datum": 142.6, "type": "quantitative", "scale": {"domain": [-2.9, 0, 150, 300, 450, 600, 650], "range": [0, 2, 104, 197, 289, 379, 409], "nice": false, "zero": false}, "axis": {"title": "Time (sec)", "values": [0,150,300,450,600], "grid": false, "ticks": false, "tickSize": 0, "domainColor": "#111111", "domainWidth": 1.5, "labelFont": "Liberation Sans", "labelFontSize": 18, "labelColor": "#1a1a1a", "labelPadding": 7.5, "labelFlush": false, "titleFont": "Liberation Sans", "titleFontSize": 19, "titleFontWeight": "bold", "titleColor": "#111111", "titleX": -3, "titleY": 52, "titleAlign": "left", "titleBaseline": "middle", "titleAnchor": "start"}},
           "x2": {"datum": 368.5},
           "y": {"datum": -83.2, "type": "quantitative", "scale": {"domain": [0, 400], "nice": false, "zero": false}, "axis": {"title": "Ca⁺²\u00a0 mobilization RFU", "format": "d", "values": [0,50,100,150,200,250,300,350,400], "grid": false, "domainColor": "#222222", "domainWidth": 1.5, "tickColor": "#555555", "tickSize": 5, "tickWidth": 1.2, "labelFont": "Liberation Sans", "labelFontSize": 18, "labelColor": "#1a1a1a", "labelPadding": 3, "titleFont": "Liberation Sans", "titleFontSize": 19, "titleFontWeight": "normal", "titleColor": "#1a1a1a", "titleX": -64, "titleY": 119.5, "titleAngle": -90, "titleAlign": "center", "titleBaseline": "middle"}}
         }},
        {"data": {"values": [{}]},
         "mark": {"type": "point", "shape": "M-1,-1L0,0L-1,1", "filled": false, "size": 110, "stroke": "#222222", "strokeWidth": 1.2, "opacity": 1},
         "encoding": {
           "x": {"datum": 368.5, "type": "quantitative", "scale": {"domain": [-2.9, 0, 150, 300, 450, 600, 650], "range": [0, 2, 104, 197, 289, 379, 409], "nice": false, "zero": false}, "axis": {"title": "Time (sec)", "values": [0,150,300,450,600], "grid": false, "ticks": false, "tickSize": 0, "domainColor": "#111111", "domainWidth": 1.5, "labelFont": "Liberation Sans", "labelFontSize": 18, "labelColor": "#1a1a1a", "labelPadding": 7.5, "labelFlush": false, "titleFont": "Liberation Sans", "titleFontSize": 19, "titleFontWeight": "bold", "titleColor": "#111111", "titleX": -3, "titleY": 52, "titleAlign": "left", "titleBaseline": "middle", "titleAnchor": "start"}},
           "y": {"datum": -83.2, "type": "quantitative", "scale": {"domain": [0, 400], "nice": false, "zero": false}, "axis": {"title": "Ca⁺²\u00a0 mobilization RFU", "format": "d", "values": [0,50,100,150,200,250,300,350,400], "grid": false, "domainColor": "#222222", "domainWidth": 1.5, "tickColor": "#555555", "tickSize": 5, "tickWidth": 1.2, "labelFont": "Liberation Sans", "labelFontSize": 18, "labelColor": "#1a1a1a", "labelPadding": 3, "titleFont": "Liberation Sans", "titleFontSize": 19, "titleFontWeight": "normal", "titleColor": "#1a1a1a", "titleX": -64, "titleY": 119.5, "titleAngle": -90, "titleAlign": "center", "titleBaseline": "middle"}}
         }}
      ]
    }
  ],
  "columns": 2,
  "spacing": {"row": 129, "column": 134},
  "bounds": "flush",
  "align": "all"
}
